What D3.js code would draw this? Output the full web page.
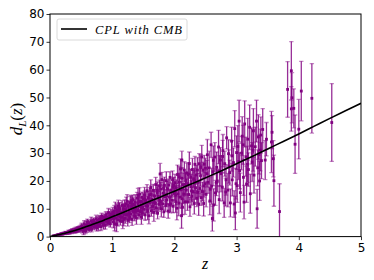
<!DOCTYPE html>
<html><head><meta charset="utf-8">
<script src="https://cdn.jsdelivr.net/npm/d3@7"></script>
<style>
html,body{margin:0;padding:0;background:#fff;}
svg{display:block;}
</style></head>
<body>
<svg id="chart" width="374" height="280"></svg>
<script>
// ---- data ----
const zValues = [
 0.06,0.09,0.12,0.14,0.16,0.18,0.20,0.22,0.24,0.25,0.27,0.29,0.30,0.32,0.33,0.35,0.36,0.38,0.39,0.40,0.41,0.42,0.43,0.44,0.45,0.46,0.47,0.48,0.49,0.50,
 0.51,0.52,0.53,0.54,0.55,0.56,0.57,0.58,0.59,0.60,0.61,0.62,0.63,0.64,0.65,0.66,0.67,0.68,0.69,0.70,0.71,0.72,0.73,0.74,0.75,0.76,0.77,0.78,0.79,0.80,
 0.81,0.82,0.83,0.84,0.85,0.86,0.87,0.88,0.89,0.90,0.91,0.92,0.93,0.94,0.95,0.96,0.97,0.98,0.99,1.00,
 1.01,1.02,1.03,1.04,1.05,1.06,1.07,1.08,1.09,1.10,1.11,1.12,1.13,1.14,1.15,1.16,1.17,1.18,1.19,1.20,
 1.21,1.22,1.23,1.24,1.25,1.26,1.27,1.28,1.29,1.30,1.31,1.32,1.33,1.34,1.35,1.36,1.37,1.38,1.39,1.40,
 1.41,1.42,1.43,1.44,1.45,1.46,1.47,1.48,1.49,1.50,
 1.035,1.115,1.185,1.255,1.305,1.355,1.415,1.455,1.485,1.095,
 1.51,1.52,1.53,1.54,1.55,1.56,1.57,1.58,1.59,1.60,1.61,1.62,1.63,1.64,1.65,1.66,1.67,1.68,1.69,1.70,
 1.71,1.72,1.73,1.74,1.75,1.76,1.77,1.78,1.79,1.80,1.81,1.82,1.83,1.84,1.85,1.86,1.87,1.88,1.89,1.90,
 1.91,1.92,1.93,1.94,1.95,1.96,1.97,1.98,1.99,2.00,1.77,
 2.01,2.02,2.03,2.04,2.05,2.06,2.07,2.08,2.09,2.10,2.11,2.12,2.13,2.14,2.15,2.16,2.17,2.18,2.19,2.20,
 2.21,2.22,2.23,2.24,2.25,2.26,2.27,2.28,2.29,2.30,2.31,2.32,2.33,2.34,2.35,2.36,2.37,2.38,2.39,2.40,
 2.41,2.42,2.43,2.44,2.45,2.46,2.47,2.48,2.49,2.50,2.12,2.115,
 2.51,2.53,2.54,2.56,2.57,2.59,2.60,2.62,2.63,2.65,2.66,2.68,2.69,2.71,2.72,2.74,2.75,2.77,2.78,2.80,
 2.81,2.83,2.84,2.86,2.87,2.89,2.90,2.92,2.93,2.95,2.96,2.97,2.99,3.00,2.98,2.61,
 3.01,3.02,3.04,3.05,3.06,3.08,3.09,3.11,3.12,3.13,3.15,3.16,3.18,3.19,3.21,3.22,3.24,3.25,3.27,3.28,
 3.30,3.33,3.32,3.34,3.35,3.37,3.38,3.40,3.42,3.46,3.48,
 3.56,3.57,3.59,3.60,3.69,
 3.82,3.88,3.89,3.88,3.92,3.94,4.00,4.04,4.21,4.53,
 0.305,0.355,0.405,0.455,0.505,0.555,0.605,0.655,0.705,0.755,0.805,0.855,0.905,0.955,
 1.025,1.075,1.125,1.175,1.225,1.275,1.325,1.375,1.425,1.475,1.525,1.575,1.625,1.675,1.725,1.775,1.825,1.875,1.925,1.975,
 2.025,2.075,2.125,2.175,2.225,2.275,2.325,2.375,2.425,2.475,2.525,2.575,2.625,2.675,2.725,2.775,2.825,2.875,2.925,
 3.035,3.105,3.175,3.265,3.36,3.39
];
const dlValues = [
 0.3,0.4,0.6,0.8,0.7,1.0,0.9,1.2,1.1,1.5,1.3,1.4,1.8,1.5,2.0,1.7,2.3,1.9,2.4,2.0,2.6,2.1,2.7,2.2,2.9,2.4,3.0,2.5,3.2,2.6,
 3.8,2.5,3.4,2.0,4.6,3.2,2.1,4.1,2.7,5.2,3.3,4.8,2.6,4.2,3.3,5.6,2.7,4.8,4.0,5.6,3.4,5.0,4.0,6.4,3.1,5.8,4.8,3.7,6.4,4.4,
 5.8,3.6,7.3,5.1,6.4,4.3,6.9,5.8,4.1,7.7,5.5,6.8,4.9,8.6,5.5,7.4,4.6,8.2,6.5,8.0,
 8.7,5.3,7.9,4.5,10.4,6.7,4.4,8.8,6.1,11.0,7.5,10.0,5.7,8.7,7.0,11.2,5.5,10.0,8.0,11.1,
 6.6,9.7,7.8,12.7,5.8,11.1,9.0,6.9,12.2,8.1,10.8,6.2,13.3,9.0,11.5,7.4,12.5,10.2,6.7,13.8,
 9.3,11.8,7.9,15.2,9.0,12.7,7.0,14.1,10.6,13.5,
 9.2,10.3,6.3,8.2,12.9,9.6,14.8,10.8,8.6,9.5,
 9.8,14.9,7.8,12.9,11.0,16.5,9.3,14.0,7.5,15.0,12.1,17.6,9.3,13.4,10.9,16.6,8.7,14.6,11.9,18.7,
 10.4,15.7,8.4,14.5,11.6,18.1,13.2,17.1,10.0,20.5,11.8,15.6,8.9,18.4,14.3,11.2,20.1,13.2,17.1,9.2,
 18.5,14.2,21.3,11.8,16.6,13.1,20.4,10.9,18.4,15.5,22.5,
 19.4,12.5,17.6,10.2,22.3,15.4,12.0,19.6,14.2,24.3,16.9,21.0,10.6,18.7,15.3,23.9,12.5,20.1,16.7,22.8,
 12.4,19.0,15.1,26.2,10.7,21.3,17.9,14.5,24.1,16.2,20.8,11.9,26.0,17.6,22.2,13.8,23.9,19.5,11.6,26.2,
 17.3,21.9,14.0,28.6,16.2,23.8,11.9,26.0,19.0,24.6,27.5,7.5,
 15.2,29.4,19.5,24.7,12.8,33.0,18.1,23.3,11.4,28.6,15.7,24.9,20.0,32.2,13.3,27.5,22.6,17.8,30.9,12.1,
 26.2,20.4,35.5,16.7,29.8,23.0,12.1,34.3,20.4,26.6,11.7,38.8,19.0,30.2,8.5,6.5,
 18.3,32.4,41.5,23.7,15.8,30.0,36.1,21.3,12.4,40.5,28.7,18.8,35.0,24.1,39.3,15.4,32.6,26.8,38.0,22.1,
 32.3,10.0,41.5,24.7,35.8,20.0,31.1,27.3,38.5,27.5,35.0,
 34.0,37.5,28.0,20.1,9.0,
 52.9,59.6,49.9,45.9,46.1,33.2,38.6,52.3,49.7,41.0,
 1.4,2.1,1.9,2.8,3.3,2.8,4.3,3.6,5.1,4.3,6.0,5.0,7.0,6.2,
 6.5,9.6,7.2,9.0,11.8,8.0,11.6,9.1,12.5,10.2,13.6,11.0,15.2,12.3,16.6,12.6,17.3,14.8,11.4,17.8,
 14.9,21.4,13.6,18.8,22.4,16.4,20.1,15.9,24.9,18.2,22.6,17.0,27.4,19.5,23.6,28.8,16.0,25.2,29.0,
 27.0,33.0,26.0,31.0,29.5,36.5
];
const dlErrors = [
 0.2,0.2,0.3,0.3,0.3,0.3,0.4,0.4,0.4,0.4,0.5,0.5,0.5,0.5,0.5,0.6,0.6,0.6,0.6,0.6,0.7,0.7,0.7,0.7,0.7,0.8,0.8,0.8,0.8,0.8,
 1.0,1.2,0.9,1.3,1.1,1.4,1.0,1.5,1.2,1.1,1.0,1.2,0.9,1.3,1.1,1.4,1.0,1.5,1.2,1.1,1.0,1.2,0.9,1.3,1.1,1.4,1.0,1.5,1.2,1.1,
 1.2,1.4,1.1,1.5,1.3,1.6,1.2,1.7,1.4,1.3,1.2,1.4,1.1,1.5,1.3,1.6,1.2,1.7,1.4,1.3,
 1.8,2.2,1.6,2.4,2.0,1.7,2.6,1.9,2.3,2.1,1.8,2.2,1.6,2.4,2.0,1.7,2.6,1.9,2.3,2.1,
 1.8,2.2,1.6,2.4,2.0,1.7,2.6,1.9,2.3,2.1,1.8,2.2,1.6,2.4,2.0,1.7,2.6,1.9,2.3,2.1,
 1.8,2.2,1.6,2.4,2.0,1.7,2.6,1.9,2.3,2.1,
 2.0,1.8,2.4,2.2,1.9,2.1,2.5,2.0,2.3,1.7,
 2.2,2.8,2.0,3.0,2.5,2.2,3.2,2.4,2.9,2.6,2.2,2.8,2.0,3.0,2.5,2.2,3.2,2.4,2.9,2.6,
 2.2,2.8,2.0,3.0,2.5,2.2,3.2,2.4,2.9,2.6,2.2,2.8,2.0,3.0,2.5,2.2,3.2,2.4,2.9,2.6,
 2.2,2.8,2.0,3.0,2.5,2.2,3.2,2.4,2.9,2.6,3.8,
 3.0,3.8,2.8,4.2,3.4,3.0,4.5,3.2,4.0,3.6,3.0,3.8,2.8,4.2,3.4,3.0,4.5,3.2,4.0,3.6,
 3.0,3.8,2.8,4.2,3.4,3.0,4.5,3.2,4.0,3.6,3.0,3.8,2.8,4.2,3.4,3.0,4.5,3.2,4.0,3.6,
 3.0,3.8,2.8,4.2,3.4,3.0,4.5,3.2,4.0,3.6,3.2,4.5,
 4.5,5.5,4.0,6.0,5.0,4.5,6.5,5.0,5.8,5.2,4.5,5.5,4.0,6.0,5.0,4.5,6.5,5.0,5.8,5.2,
 4.5,5.5,4.0,6.0,5.0,4.5,5.0,5.0,5.8,5.2,4.8,6.5,5.5,6.0,6.0,4.5,
 6.0,7.5,7.5,6.5,7.0,6.0,7.0,6.5,6.0,8.3,7.0,6.5,7.5,6.0,8.0,7.0,6.5,7.0,8.0,6.5,
 7.0,7.0,7.5,6.5,8.0,7.0,7.5,6.5,7.5,7.0,6.0,
 11.0,6.0,6.5,9.2,10.0,
 10.0,10.5,9.0,8.0,7.0,10.5,10.7,10.7,12.5,14.0,
 0.5,0.6,0.6,0.7,0.9,1.0,1.1,1.2,1.2,1.3,1.4,1.4,1.5,1.6,
 2.0,2.2,1.9,2.3,2.4,2.1,2.5,2.2,2.6,2.3,2.8,2.5,3.0,2.7,3.1,2.8,3.2,3.0,2.9,3.3,
 3.5,3.8,3.4,4.0,4.2,3.6,4.4,3.8,4.6,4.0,4.8,4.5,5.2,4.8,5.5,5.8,5.0,6.0,5.5,
 6.5,7.0,6.5,7.5,7.0,6.5
];
// model curve
const curveZ  = [0,0.1,0.2,0.3,0.4,0.5,0.6,0.7,0.8,0.9,1.0,1.25,1.5,1.75,2.0,2.25,2.5,2.75,3.0,3.25,3.5,3.75,4.0,4.25,4.5,4.75,5.0];
const curveDL = [0,0.5,1.0,1.6,2.2,2.9,3.7,4.5,5.3,6.2,7.1,9.4,11.7,14.0,16.3,18.7,21.1,23.6,26.2,28.8,31.5,34.2,36.9,39.7,42.5,45.2,47.9];
const xTicks = [0,1,2,3,4,5];
const yTicks = [0,10,20,30,40,50,60,70,80];
const legendLabel = "CPL with CMB";

// ---- drawing ----
(function(){
const svg = d3.select("#chart");
const pL = 50, pR = 361, pT = 14, pB = 236.6;
const x = d3.scaleLinear().domain([0,5]).range([pL,pR]);
const y = d3.scaleLinear().domain([0,80]).range([pB,pT]);

svg.append("defs").append("clipPath").attr("id","clip")
  .append("rect").attr("x",pL).attr("y",pT).attr("width",pR-pL).attr("height",pB-pT);

const pts = zValues.map((z,i)=>({z, d:dlValues[i], e:dlErrors[i]}));
const plot = svg.append("g").attr("clip-path","url(#clip)");
const col = "#800080";

const eb = plot.append("g").attr("stroke",col).attr("stroke-width",1.3).attr("fill","none");
pts.forEach(p=>{
  const xp = x(p.z);
  eb.append("line").attr("x1",xp).attr("x2",xp).attr("y1",y(p.d-p.e)).attr("y2",y(p.d+p.e)).attr("stroke-opacity",0.82);
  eb.append("line").attr("x1",xp-2.2).attr("x2",xp+2.2).attr("y1",y(p.d-p.e)).attr("y2",y(p.d-p.e)).attr("stroke-opacity",0.45);
  eb.append("line").attr("x1",xp-2.2).attr("x2",xp+2.2).attr("y1",y(p.d+p.e)).attr("y2",y(p.d+p.e)).attr("stroke-opacity",0.45);
});
plot.append("g").selectAll("rect").data(pts).join("rect")
  .attr("x",p=>x(p.z)-1.4).attr("y",p=>y(p.d)-1.4).attr("width",2.8).attr("height",2.8)
  .attr("fill",col);

const line = d3.line().x(d=>x(d[0])).y(d=>y(d[1])).curve(d3.curveMonotoneX);
plot.append("path").datum(curveZ.map((z,i)=>[z,curveDL[i]]))
  .attr("d",line).attr("fill","none").attr("stroke","#000").attr("stroke-width",1.6);

// axes
const fontTick = "DejaVu Sans, sans-serif";
const xAxis = svg.append("g").attr("transform",`translate(0,${pB})`)
  .call(d3.axisBottom(x).tickValues(xTicks).tickFormat(d3.format("d")).tickSizeOuter(0).tickSize(3.5));
const yAxis = svg.append("g").attr("transform",`translate(${pL},0)`)
  .call(d3.axisLeft(y).tickValues(yTicks).tickFormat(d3.format("d")).tickSizeOuter(0).tickSize(3.5));
[xAxis,yAxis].forEach(a=>{
  a.select(".domain").remove();
  a.selectAll("line").attr("stroke","#000").attr("stroke-width",0.8);
  a.selectAll("text").attr("fill","#000").style("font-family",fontTick).style("font-size","12px");
});
xAxis.selectAll("text").attr("dy","0.95em").attr("y",4.5);
yAxis.selectAll("text").attr("x",-5.5);

// frame
svg.append("rect").attr("x",pL).attr("y",pT).attr("width",pR-pL).attr("height",pB-pT)
  .attr("fill","none").attr("stroke","#000").attr("stroke-width",1);

// axis labels
const serif = "'Liberation Serif', 'DejaVu Serif', serif";
svg.append("text").attr("x",205).attr("y",269).attr("text-anchor","middle")
  .style("font-family",serif).style("font-style","italic").style("font-size","16px").text("z");
const yl = svg.append("text").attr("transform","translate(22,119) rotate(-90)").attr("text-anchor","middle")
  .style("font-family",serif).style("font-style","italic").style("font-size","17px");
yl.append("tspan").text("d");
yl.append("tspan").attr("dy",3.5).style("font-size","11px").text("L");
yl.append("tspan").attr("dy",-3.5).style("font-style","normal").text("(");
yl.append("tspan").text("z");
yl.append("tspan").style("font-style","normal").text(")");

// legend
const lg = svg.append("g");
lg.append("rect").attr("x",57).attr("y",19).attr("width",130).attr("height",21).attr("rx",2)
  .attr("fill","#fff").attr("fill-opacity",0.8).attr("stroke","#d0d0d0").attr("stroke-width",0.8);
lg.append("line").attr("x1",61).attr("x2",87).attr("y1",29).attr("y2",29).attr("stroke","#000").attr("stroke-width",1.6);
lg.append("text").attr("x",95).attr("y",33.5).attr("textLength",87).attr("lengthAdjust","spacing")
  .style("font-family",serif).style("font-style","italic").style("font-size","12.5px").text(legendLabel);
})();
</script>
</body></html>
